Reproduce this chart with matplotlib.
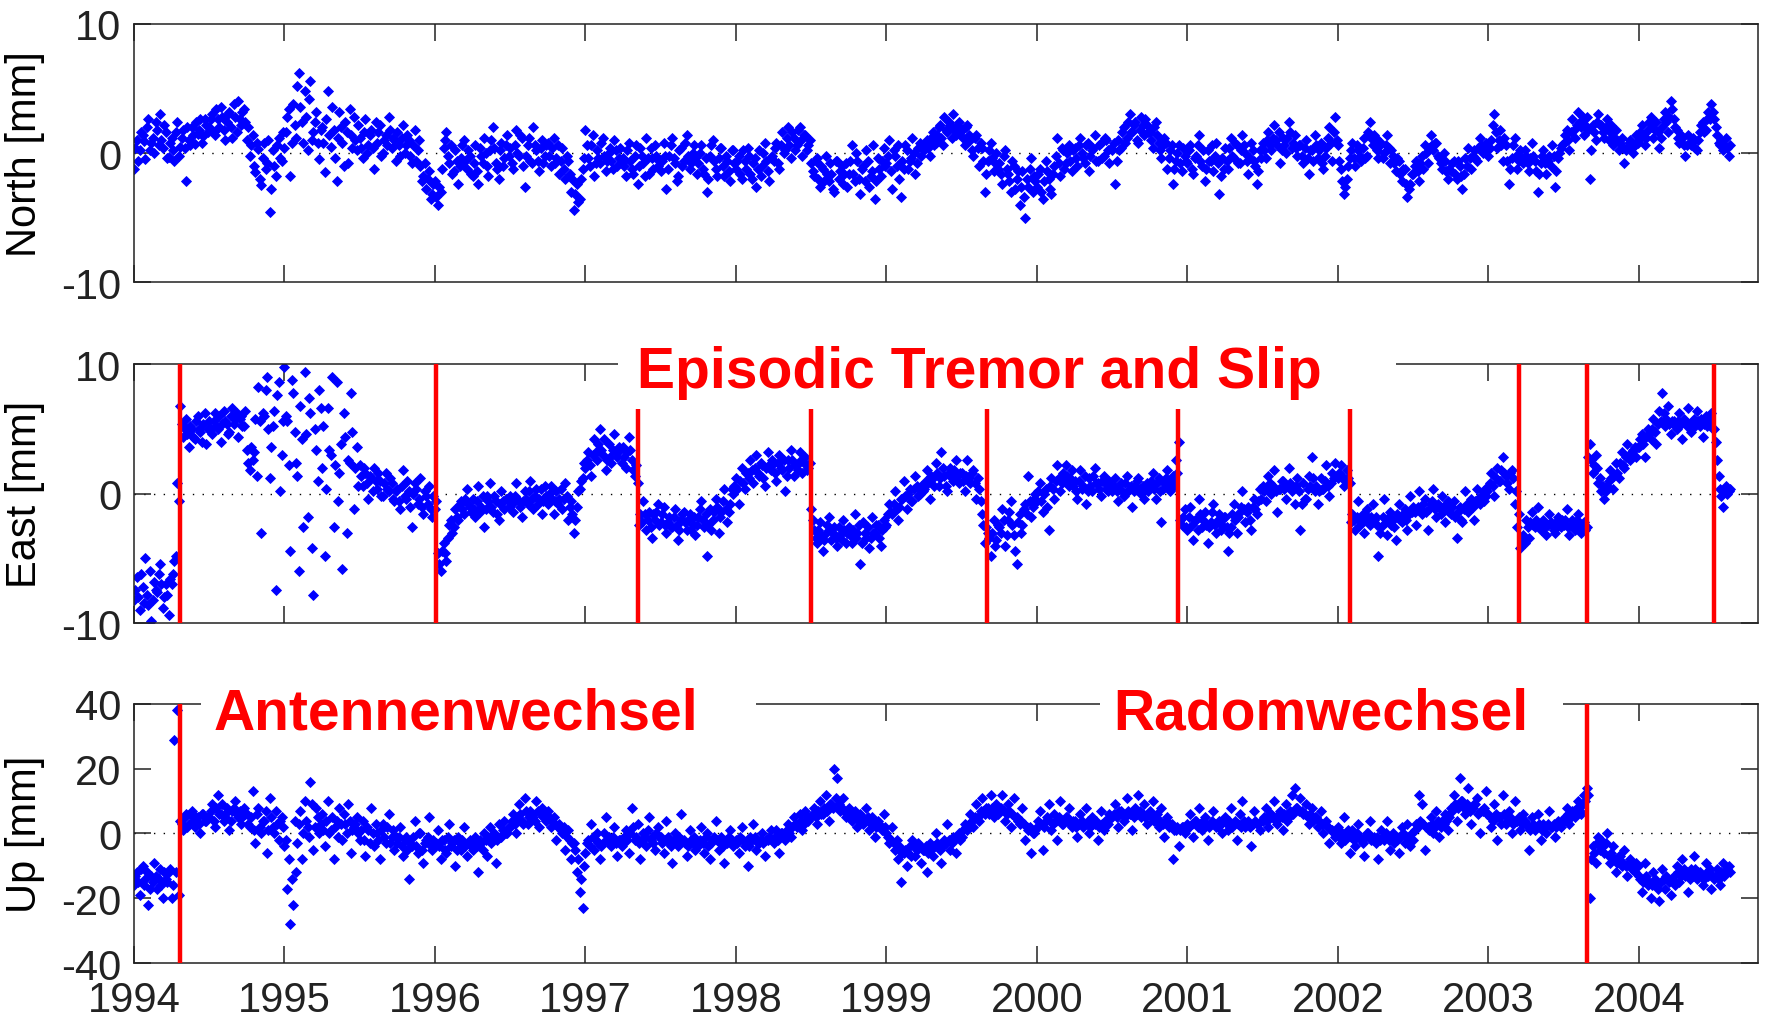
import matplotlib.pyplot as plt
from matplotlib.patches import Rectangle
import numpy as np

plt.rcParams['font.family'] = ['Liberation Sans', 'DejaVu Sans']
plt.rcParams['axes.unicode_minus'] = False

# weekly samples starting 1994.0, one row = one quarter year
start_year = 1994.0
samples_per_year = 52

north = [
    -1.2, 1.0, 0.2, 1.4, -0.5, 2.6, 0.8, 0.0, 1.8, 3.0, 0.4, 1.6, -0.3,
    1.2, -0.6, 2.4, 0.5, 1.8, -2.2, 1.0, 2.0, 0.7, 1.5, 2.6, 1.3, 2.2,
    2.0, 3.0, 1.4, 2.6, 3.6, 1.8, 2.4, 3.2, 1.2, 2.8, 4.0, 2.2, 3.4,
    1.0, -0.2, 1.4, -1.5, 0.3, -2.5, 0.8, -0.8, -4.6, 0.2, -1.8, 1.2, -0.6,
    0.4, 2.8, -1.8, 3.8, 1.2, 6.2, 2.4, 4.8, 0.2, 5.6, 1.6, 3.2, -0.5,
    2.0, -1.5, 4.8, 0.5, 1.8, -2.2, 3.2, 0.8, 2.4, -0.8, 1.4, 2.8, 0.2,
    1.2, -0.4, 2.6, 0.6, 1.8, -1.2, 0.8, 2.2, 0.0, 1.4, 2.8, 0.4, 1.0,
    1.6, -0.2, 2.2, 0.6, 1.0, -0.8, 1.8, 0.2, -1.0, -1.8, -2.8, -1.4, -3.2,
    -2.2, -4.0, -3.0, 0.4, 1.6, -0.8, -1.6, 0.2, -2.4, -0.4, 1.0, -1.2, -0.2,
    -1.8, 0.6, -2.4, -0.2, 1.2, -1.0, 0.2, 2.0, -0.8, -2.0, 0.8, -0.4, 1.4,
    0.4, -1.2, 1.8, -0.2, 1.2, -2.6, 0.6, -0.6, 2.0, 0.2, -1.4, 1.0, -0.2,
    0.8, -1.0, 1.2, -0.4, -1.6, 0.4, -2.0, -0.6, -3.0, -4.4, -2.4, -3.6, -1.2,
    1.8, -0.4, 0.6, -1.8, 0.2, -0.8, 1.2, -1.4, 0.0, -0.6, 1.0, -1.0, 0.4,
    -0.4, -1.8, 0.8, -1.2, -0.2, -2.4, 0.4, -0.8, 1.2, -1.6, -0.4, 0.6, -1.0,
    -1.4, 0.8, -2.8, -0.2, 1.2, -0.8, -1.8, 0.4, -0.6, 1.4, -1.2, 0.0, -0.4,
    -0.8, 0.6, -1.6, -3.0, -0.2, 1.0, -1.2, -0.4, 0.4, -1.8, -0.6, -2.2, 0.2,
    -1.2, -0.2, -2.0, -0.6, 0.4, -1.6, -0.8, -2.6, 0.2, -1.0, 0.8, -1.4, -0.4,
    -0.6, 0.8, -1.2, 1.6, 0.2, 2.0, -0.4, 1.2, 0.6, 2.0, -0.2, 1.4, 0.6,
    -0.8, -1.8, -0.4, -2.6, -1.2, -0.2, -2.2, -1.6, -3.0, -0.6, -1.4, -2.4, -0.8,
    -1.6, 0.6, -2.2, -0.6, -3.2, -1.0, 0.2, -2.6, -1.4, -3.6, -0.4, -1.8, 0.4,
    -0.8, 1.0, -2.8, -0.2, 0.6, -3.4, -1.2, 0.2, -0.6, 1.2, -1.6, 0.4, -0.2,
    0.2, 1.0, -0.2, 1.6, 0.8, 2.0, 1.2, 2.8, 1.6, 2.2, 3.0, 1.4, 2.4,
    1.8, 0.6, 2.2, 1.0, -0.2, 1.4, -1.0, 0.4, -3.0, -0.6, 0.8, -1.4, 0.0,
    -0.8, -2.4, 0.2, -1.6, -3.0, -1.0, -2.0, -4.0, -1.4, -5.0, -2.6, -0.4, -1.8,
    -2.6, -1.2, -3.6, -0.6, -2.0, -3.2, -1.0, 1.2, -1.8, 0.2, -0.8, 0.6, -1.4,
    0.4, -1.0, 1.2, -0.4, 0.6, -1.4, 0.2, 1.4, -0.6, 0.8, -0.2, 1.0, -0.8,
    0.2, -2.4, 1.0, 0.4, 2.0, 1.2, 3.0, 1.6, 2.4, 0.8, 2.8, 1.4, 2.2,
    1.6, 0.4, 2.4, 0.8, -0.4, 1.2, -1.2, 0.2, -2.4, -0.6, 0.6, -1.4, -0.2,
    -0.8, 0.6, -1.6, -0.2, 1.4, -1.0, -2.2, 0.2, -0.6, -1.4, 0.8, -3.2, -0.4,
    0.4, -1.2, 1.2, -0.4, 0.6, -0.8, 1.4, 0.0, -1.6, 0.8, -0.6, -2.4, 0.2,
    0.8, -0.4, 1.6, 0.2, 2.2, 0.6, -0.8, 1.2, 0.0, 2.4, 0.4, 1.4, -0.2,
    0.6, -0.8, 1.0, -1.6, 0.2, 1.4, -0.4, 0.8, -1.2, 0.4, 2.0, -0.6, 2.8,
    0.6, -1.2, -3.2, -2.0, -0.4, 0.8, -1.0, 0.2, -0.6, 1.2, -0.2, 2.4, 0.6,
    1.2, -0.4, 0.8, 0.0, 1.4, -0.8, -0.2, -1.4, -0.6, -2.2, -1.2, -3.4, -2.4,
    -1.6, -0.6, -2.2, -0.2, 0.6, -0.8, 1.4, 0.2, 0.8, -0.4, -1.2, -0.6, -2.0,
    -1.4, -0.6, -2.0, -1.0, -2.8, -0.4, 0.4, -1.2, 0.2, -0.6, 1.2, 0.0, 0.8,
    -0.2, 1.0, 3.0, 0.4, 1.8, -0.6, 0.6, -2.4, -0.4, 1.2, -1.2, 0.2, -0.8,
    -0.2, -1.4, 0.8, -0.6, -3.0, -0.8, 0.2, -1.6, -0.2, 0.6, -2.6, -0.4, 0.4,
    0.8, 1.8, 0.2, 2.6, 1.2, 3.2, 2.0, 1.4, 2.8, -2.0, 2.2, 1.0, 3.0,
    2.2, 1.2, 2.6, 1.6, 0.6, 1.8, 0.2, 1.2, -0.8, 0.4, 1.0, 0.0, 1.4,
    1.0, 2.2, 0.6, 1.8, 2.8, 1.2, 2.4, 0.4, 2.0, 3.2, 1.6, 4.0, 2.6,
    1.8, 0.8, 1.2, -0.2, 1.4, 0.6, 1.0, 0.2, 1.6, 2.4, 1.8, 3.2, 3.8,
    2.6, 1.4, 0.6, 0.2, 1.2, -0.2,
]

# readings half a week later than the ones above
north_mid = [
    0.4, -0.6, 1.6, 0.9, 2.0, 0.2, 1.2, 2.4, 0.6, 1.0, 2.2, -0.4, 0.8,
    0.2, 1.6, -0.2, 1.2, 0.4, 2.0, 0.6, 1.4, 2.4, 1.8, 0.8, 2.6, 1.6,
    2.6, 1.6, 3.4, 2.0, 2.8, 1.0, 3.0, 2.0, 3.8, 1.6, 2.6, 3.2, 2.4,
    2.0, 0.6, -1.0, 0.8, -2.0, -0.4, -1.2, 1.0, -2.8, -1.0, 0.6, -0.4, 1.6,
    1.6, 3.4, 0.8, 2.2, 5.2, 3.6, 0.8, 2.8, 4.2, 1.0, 2.4, 0.8, 1.8,
    0.8, 2.6, 1.4, 3.6, -0.4, 1.2, 2.0, -1.0, 1.6, 3.4, 0.4, 1.0, 2.2,
    0.4, 1.6, 0.0, 1.4, 0.4, 2.4, 1.6, -0.2, 1.0, 0.6, 1.8, 1.2, -0.6,
    0.6, 1.2, 0.0, 1.4, -0.2, 0.6, -0.6, 1.0, -2.2, -0.8, -2.0, -3.6, -2.4,
    -3.4, -2.6, -1.2, 1.0, -0.2, 0.6, -1.4, -0.6, -1.0, 0.6, -0.6, 0.2, -1.6,
    -0.8, -1.4, 0.4, -0.8, 0.0, -1.8, 1.0, 0.4, -1.2, 0.2, -1.0, 0.6, -0.2,
    -0.8, 0.6, 0.0, 1.4, -1.0, -0.2, 1.2, -0.8, 0.6, -0.6, 0.4, -0.8, 0.6,
    -0.2, 0.4, -0.8, 0.6, -0.6, -1.2, -0.2, -1.6, -2.0, -3.2, -3.8, -2.0, -0.4,
    0.6, -1.0, 1.4, -0.8, -0.4, 0.8, -0.2, -0.6, 0.4, -1.2, 0.2, -0.4, -0.8,
    -1.0, 0.2, -0.6, -1.6, 0.6, -1.0, -0.2, -1.8, -0.4, 0.4, -1.2, -0.2, -0.6,
    -0.6, -0.2, -1.2, 0.6, -0.4, -2.2, 0.2, -1.0, 0.8, -0.2, -0.8, 0.6, -1.6,
    0.0, -1.2, -0.4, -2.0, 0.6, -0.6, -1.8, 0.4, -1.0, -0.2, -1.4, 0.2, -0.8,
    -0.6, -1.6, 0.2, -1.2, -0.2, -2.0, -0.4, -1.2, -1.8, 0.0, -0.6, -2.2, -0.2,
    0.4, -0.8, 0.6, 0.0, 1.2, 0.6, 1.6, 0.2, 1.8, 1.0, 1.4, 0.2, 1.0,
    -1.4, -0.6, -2.0, -1.0, -2.2, -1.6, -0.8, -2.8, -0.6, -2.0, -1.0, -1.6, -2.6,
    -0.6, -1.6, 0.0, -2.0, -1.2, -2.2, -0.6, -1.8, 0.6, -2.2, -1.2, -0.6, -1.0,
    -0.2, -1.4, 0.2, -1.0, -2.0, -0.6, 0.6, -1.2, -0.4, 0.0, -0.8, 0.8, 0.4,
    0.8, 0.4, 1.2, 0.6, 1.4, 2.2, 0.6, 1.8, 2.4, 1.2, 1.8, 2.2, 1.6,
    1.2, 2.0, 1.4, 0.2, 1.2, 0.4, 0.8, -0.6, -1.6, 0.2, -0.4, -0.8, -1.2,
    -1.6, -0.2, -1.2, -2.2, -0.6, -2.8, -1.4, -2.6, -3.4, -2.0, -1.2, -3.0, -2.2,
    -1.6, -3.0, -2.2, -1.4, -2.8, -1.6, -0.2, -0.8, 0.4, -1.2, 0.0, -0.6, 0.2,
    -0.4, 0.6, 0.0, -0.8, 0.8, -0.2, 0.4, -0.6, 0.6, -0.4, 1.2, 0.2, 0.4,
    0.8, -0.6, 0.2, 1.6, 0.8, 2.4, 1.6, 2.2, 1.0, 1.8, 2.2, 2.6, 1.6,
    1.0, 2.0, 1.4, 0.2, 0.6, 0.8, -0.4, 0.6, -1.2, 0.0, -0.8, 0.4, -0.6,
    0.2, -1.2, -0.4, 0.6, -0.6, 0.2, -1.2, -0.6, 0.6, -0.2, -0.8, -1.8, -1.2,
    -0.6, 0.4, -0.2, 0.8, -0.8, 0.2, 0.6, -0.6, -0.4, 0.2, -1.0, -1.4, -0.4,
    0.2, 1.0, 0.6, 1.2, 1.0, 1.6, 0.2, 0.6, 1.2, 1.6, 0.8, 0.4, 0.6,
    -0.2, 0.4, -0.4, 0.2, -0.6, 0.6, 0.2, -0.8, -0.2, 1.2, 0.8, 1.6, 1.0,
    -0.6, -2.2, -2.6, -1.0, 0.2, -0.4, 0.6, -0.2, 0.4, -0.4, 1.6, 1.2, 1.4,
    0.2, 0.6, -0.4, 0.6, 0.4, 0.2, -0.8, -0.4, -1.6, -1.2, -2.4, -2.8, -1.6,
    -1.0, -1.4, -0.8, -1.2, 0.0, 0.4, 0.6, 0.8, -0.2, -0.8, 0.0, -1.4, -1.2,
    -0.8, -1.6, -0.6, -1.8, -1.6, -1.0, -0.4, -0.2, -0.4, 0.4, 0.6, 0.4, 0.2,
    0.4, 2.2, 1.6, 1.0, 0.6, 1.2, -0.6, -1.2, 0.6, -0.2, -0.6, -0.4, 0.2,
    -0.8, -0.4, -0.2, -1.4, -1.6, -0.2, -0.8, -0.6, -1.0, -0.2, -1.4, 0.0, 0.6,
    1.4, 1.0, 1.6, 1.8, 2.2, 2.4, 2.8, 2.2, 1.8, 0.2, 1.6, 2.4, 2.2,
    1.6, 2.0, 1.0, 2.2, 1.2, 1.0, 0.8, 0.4, 0.2, 0.8, 0.4, 0.6, 0.8,
    1.6, 1.4, 1.2, 2.4, 2.0, 1.8, 1.6, 1.2, 2.6, 2.4, 2.8, 3.4, 2.0,
    1.2, 1.4, 0.6, 0.6, 0.8, 1.2, 0.4, 1.0, 2.2, 1.6, 2.6, 2.6, 3.2,
    2.0, 0.8, 1.0, 0.6, 0.4, 0.6,
]

east = [
    -8.2, -6.4, -9.0, -7.2, -5.0, -8.6, -9.8, -6.8, -7.6, -5.4, -8.8, -7.0, -9.4,
    -7.0, -5.2, 0.8, 6.8, 4.4, 5.8, 3.6, 5.0, 4.2, 6.0, 4.8, 5.4, 3.8,
    5.6, 4.6, 6.2, 5.0, 4.0, 6.4, 5.4, 4.8, 6.6, 5.8, 4.4, 6.0, 5.2,
    3.4, 1.8, 2.6, 5.8, 8.2, -3.0, 6.0, 9.0, 1.2, 5.2, -7.4, 8.6, 3.0,
    9.8, 5.6, -4.4, 7.8, 2.4, -6.0, 4.2, 9.4, -1.8, 6.2, -7.8, 3.4, 8.0,
    2.0, -4.8, 6.6, 3.0, -2.6, 8.6, 1.6, -5.8, 4.4, 2.6, 7.8, -1.2, 3.6,
    2.2, 0.6, 1.6, -0.4, 1.2, 2.0, 0.4, 1.0, -0.2, 1.6, 0.2, 0.8, -0.6,
    0.4, -1.2, 1.8, -0.4, 0.2, -2.6, 0.8, -0.8, 1.2, -1.6, -0.2, 0.6, -1.8,
    -1.2, -4.6, -6.0, -3.8, -5.2, -2.4, -3.0, -1.2, -2.0, -0.6, -1.6, 0.4, -1.0,
    -0.4, -1.8, 0.6, -1.0, -2.6, -0.2, 0.8, -1.4, -0.6, -2.0, 0.2, -1.2, -0.4,
    -0.2, -1.4, 0.8, -0.6, -1.8, 0.2, -0.8, 1.0, -1.2, 0.4, -0.4, -1.6, 0.6,
    -0.8, 0.6, -1.6, 0.2, -0.4, -1.2, 0.8, -2.0, -0.6, -3.0, -1.0, 0.4, 1.2,
    2.0, 3.2, 1.4, 4.2, 2.6, 5.0, 3.0, 1.8, 3.8, 2.4, 4.6, 2.8, 3.4,
    3.6, 2.0, 4.4, 2.6, 1.4, 0.8, -1.6, -0.6, -2.8, -1.4, -3.4, -2.0, -0.8,
    -2.2, -1.0, -3.0, -1.8, -2.6, -1.2, -3.6, -2.0, -1.4, -2.8, -1.6, -2.4, -3.2,
    -1.8, -0.6, -2.6, -4.8, -1.2, -2.0, -0.4, -3.0, -1.4, 0.4, -2.2, -0.8, 0.0,
    1.2, -0.8, 2.0, 0.4, 1.6, 2.6, 0.8, 3.0, 1.4, 2.2, 0.6, 3.2, 1.8,
    2.4, 1.0, 3.0, 1.8, 0.2, 2.6, 3.4, 1.4, 2.2, 3.2, 1.6, 2.8, 2.0,
    -1.2, -2.8, -3.8, -2.2, -4.4, -3.0, -1.8, -3.6, -2.6, -4.0, -3.2, -2.0, -3.8,
    -2.6, -3.8, -1.6, -3.0, -5.4, -2.2, -3.4, -4.2, -1.8, -3.0, -2.4, -4.0, -2.0,
    -2.4, -0.8, -1.6, 0.2, -2.0, -0.4, 1.0, -1.2, 0.4, -0.6, 1.4, -0.2, 0.6,
    0.4, 1.8, -0.4, 1.2, 2.4, 0.6, 3.2, 1.4, 0.2, 2.0, 1.0, 2.6, 0.8,
    1.6, 0.2, 2.6, 0.8, 1.8, -0.4, 0.4, -1.6, -3.8, -3.0, -4.8, -2.0, -3.6,
    -2.6, -1.2, -4.0, -2.0, -0.6, -3.2, -5.4, -1.6, -2.4, -0.8, 1.4, -1.8, -0.4,
    -0.6, 0.8, -1.4, 0.4, -2.8, 1.2, -0.4, 2.2, 0.2, 1.6, 2.2, 0.6, 1.8,
    1.0, -0.4, 1.8, 0.6, -0.8, 1.2, 0.2, 2.0, 0.8, -0.2, 1.4, 0.4, 1.0,
    0.2, 1.2, -0.6, 0.8, -0.2, 1.4, 0.4, -1.0, 0.6, 1.2, 0.0, -0.4, 0.8,
    0.6, 1.6, -0.4, 1.2, -2.2, 0.8, 1.8, 0.2, 1.4, 2.6, 4.0, -2.4, -1.2,
    -2.8, -1.0, -3.6, -2.0, -0.4, -2.6, -1.4, -3.8, -2.2, -0.8, -3.0, -1.6, -2.4,
    -1.8, -4.4, -2.6, -0.8, -3.0, -1.4, 0.2, -2.2, -1.0, -2.8, -0.4, -1.6, 0.4,
    0.6, -0.6, 1.4, 0.0, 1.8, -1.4, 0.4, 1.0, -0.4, 2.0, 0.2, -0.8, 1.2,
    -2.8, 0.8, -0.4, 1.4, 2.8, 0.2, -0.8, 1.2, 0.4, 2.2, -0.2, 1.6, 2.4,
    1.2, 2.2, 0.6, 1.8, 0.8, -1.6, -2.8, -0.6, -2.2, -3.0, -1.2, -2.4, -0.8,
    -1.8, -4.8, -2.6, -0.4, -3.2, -1.4, -2.0, -3.6, -0.8, -2.2, -1.2, -2.8, -0.2,
    -1.0, -2.4, 0.2, -1.6, -0.4, -2.8, -0.8, 0.4, -1.8, -1.0, -0.2, -2.2, -0.6,
    -1.6, -0.6, -3.4, -1.0, -2.2, 0.2, -1.4, -0.4, -2.0, 0.4, -0.8, 0.2, -0.2,
    0.6, 1.6, -0.2, 2.0, 1.0, 2.8, 1.4, 0.4, 1.8, -0.8, -2.6, -4.2, -3.2,
    -2.0, -3.4, -1.4, -2.6, -1.0, -2.8, -2.0, -3.2, -1.6, -2.4, -3.0, -1.8, -2.6,
    -2.4, -1.2, -3.2, -2.0, -2.8, -1.6, -3.0, -2.2, -2.6, 3.8, 1.6, 3.0, 0.8,
    0.2, -0.4, 0.6, 1.8, 0.4, 2.4, 1.2, 3.2, 2.0, 3.8, 2.6, 3.4, 2.8,
    3.6, 4.6, 2.8, 5.0, 4.2, 5.8, 3.8, 6.4, 7.8, 5.2, 6.8, 4.6, 5.6,
    5.0, 6.2, 4.2, 5.6, 6.6, 4.8, 5.8, 6.4, 5.2, 4.4, 6.0, 5.4, 6.2,
    5.0, 2.6, 0.4, -1.0, 0.6, 0.2,
]

east_mid = [
    -7.4, -8.0, -6.2, -8.4, -7.8, -6.0, -8.2, -7.4, -6.2, -7.0, -8.0, -7.8, -6.6,
    -6.2, -4.8, -0.6, 5.4, 5.0, 4.6, 5.2, 4.4, 5.6, 5.0, 4.0, 6.2, 5.0,
    5.0, 5.6, 5.2, 6.0, 5.4, 5.6, 4.6, 6.0, 5.4, 6.2, 5.8, 5.2, 6.4,
    2.4, 3.6, 3.2, 1.4, 5.6, 6.2, 8.0, 5.0, 3.6, 6.4, 7.6, 0.2, 5.6,
    6.0, 2.2, 8.8, 4.8, 1.4, 6.8, -2.6, 4.6, 7.4, -4.2, 5.0, 1.0, 6.6,
    5.2, 0.4, 3.4, 9.0, 2.2, -0.6, 3.8, 6.2, -3.0, 2.4, 4.8, 2.0, 0.6,
    1.4, 2.0, 0.8, 1.4, 0.2, 1.0, 1.6, -0.2, 0.8, 0.4, 1.2, -0.4, 0.2,
    -0.6, 0.6, -0.2, 1.0, -1.0, 0.0, 0.4, -0.4, -1.0, 0.2, -0.8, -1.2, -0.2,
    -0.6, -5.4, -4.4, -4.6, -3.4, -2.0, -2.6, -1.8, -0.8, -1.2, -0.4, -0.8, -1.4,
    -1.2, -0.6, -1.4, -0.2, -1.2, -0.6, -1.0, -0.2, -1.6, -0.8, -0.6, -0.4, -1.0,
    -0.8, -0.2, -0.4, -1.0, -0.6, -0.4, 0.2, -0.4, -0.2, -0.8, 0.4, -0.6, -0.2,
    0.0, -0.4, -0.6, -0.8, 0.4, -0.4, -0.2, -1.0, -1.6, -2.0, 0.2, 1.0, 2.4,
    2.6, 2.2, 3.0, 3.2, 3.8, 3.4, 4.2, 2.6, 2.8, 3.4, 3.2, 3.6, 2.4,
    2.8, 3.2, 3.4, 1.8, 2.2, -2.4, -2.2, -1.6, -2.0, -2.6, -1.6, -1.4, -2.4,
    -1.6, -2.4, -2.2, -2.6, -1.8, -2.4, -2.8, -1.6, -2.2, -2.0, -2.8, -1.8, -2.4,
    -1.2, -2.0, -1.6, -2.4, -2.8, -1.4, -1.0, -1.8, -0.6, -1.2, -1.4, 0.4, 0.6,
    0.4, 1.0, 0.8, 1.6, 1.2, 1.8, 2.0, 1.6, 2.4, 1.2, 2.0, 2.2, 2.6,
    1.6, 2.4, 2.0, 2.6, 1.4, 2.0, 2.6, 2.2, 1.8, 2.6, 2.4, 1.8, 2.4,
    -2.0, -3.4, -2.8, -3.2, -3.6, -2.4, -2.8, -3.0, -3.4, -2.6, -3.6, -2.8, -3.0,
    -3.2, -2.8, -3.4, -2.4, -3.8, -3.0, -2.6, -3.4, -3.0, -2.4, -3.4, -2.8, -2.6,
    -1.6, -1.4, -0.8, -1.2, -1.0, -0.4, -0.2, 0.0, -0.6, 0.4, 0.6, 0.0, 0.2,
    1.0, 0.8, 1.4, 0.6, 1.6, 1.2, 2.0, 0.6, 1.6, 1.2, 1.8, 1.4, 1.6,
    1.0, 1.4, 1.2, 1.6, 0.8, 1.2, -0.6, -2.4, -2.6, -3.4, -3.0, -4.0, -2.4,
    -3.0, -2.0, -3.2, -1.4, -2.4, -4.4, -2.2, -3.0, -1.2, -1.6, -0.6, -1.0, 0.0,
    0.2, -0.6, 0.0, -1.0, 0.6, 0.4, 1.0, 1.2, 0.8, 1.0, 1.4, 1.2, 0.6,
    0.2, 1.0, 0.4, 1.4, 0.2, 0.6, 1.4, 0.8, 0.4, 1.0, 0.8, 0.2, 0.6,
    0.6, 0.2, 0.4, 0.2, 0.8, 0.2, 0.6, 0.2, 1.0, 0.4, 0.6, 0.4, 0.2,
    1.0, 0.4, 0.8, 0.2, 0.4, 1.2, 0.6, 1.0, 0.6, 1.6, -2.0, -1.8, -2.6,
    -1.8, -2.4, -2.0, -2.8, -1.6, -2.0, -2.4, -2.6, -1.4, -2.4, -2.0, -2.8, -1.8,
    -2.6, -3.0, -1.6, -2.0, -1.8, -1.0, -1.2, -1.4, -2.0, -1.0, -1.2, -0.6, -0.4,
    0.2, 0.4, 0.8, 0.6, 0.2, 0.4, 1.0, 0.4, 0.6, 0.8, 0.4, 0.6, 0.2,
    -0.8, -0.4, 0.4, 0.6, 1.2, 0.6, 0.2, 0.4, 1.0, 0.6, 0.8, 1.2, 1.4,
    1.6, 1.4, 1.0, 1.2, -2.2, -2.0, -1.8, -2.4, -1.6, -2.0, -1.8, -1.8, -2.0,
    -2.4, -3.0, -1.8, -2.2, -1.8, -2.4, -2.6, -1.6, -2.0, -1.6, -2.0, -1.6, -1.4,
    -1.4, -1.0, -1.2, -0.8, -1.4, -1.2, -0.6, -1.2, -0.8, -1.6, -1.0, -0.8, -1.4,
    -1.0, -1.8, -1.4, -2.0, -1.2, -0.8, -0.8, -1.0, -0.6, -0.4, -0.2, -0.6, 0.2,
    0.8, 0.6, 1.2, 1.0, 1.8, 1.6, 0.8, 1.6, 1.2, 0.2, -1.6, -3.4, -3.8,
    -2.6, -2.2, -2.4, -2.0, -2.4, -2.2, -2.6, -2.4, -2.2, -2.8, -2.2, -2.4, -2.0,
    -2.0, -2.6, -2.4, -2.6, -2.0, -2.4, -2.4, -2.8, 2.8, 2.6, 2.2, 2.0, 1.2,
    0.6, 0.2, 1.0, 1.2, 1.4, 1.6, 2.4, 2.2, 2.8, 3.0, 3.2, 3.6, 3.6,
    4.2, 3.8, 4.4, 4.6, 5.0, 4.8, 5.4, 5.6, 6.2, 5.8, 5.4, 5.6, 5.2,
    5.6, 5.4, 5.8, 5.2, 5.4, 5.6, 5.2, 5.6, 5.8, 5.4, 5.2, 5.6, 5.0,
    4.0, 1.4, -0.2, 0.2, 0.0, 0.4,
]

up = [
    -16, -12, -19, -10, -14, -22, -13, -9, -17, -11, -20, -14, -12,
    -20, 29, 38, 4, 1, 6, 3, 7, 2, 5, 0, 6, 4,
    5, 9, 2, 12, 6, 4, 8, 1, 7, 10, 5, 3, 8,
    6, 2, 13, -3, 8, 0, 4, -6, 11, 2, 7, -2, 5,
    -4, -17, -28, -22, -12, 3, -8, 10, 2, 16, -5, 8, 0,
    6, -4, 10, 1, -8, 4, 8, -2, 3, 9, -6, 2, 5,
    -2, 4, -7, 1, 8, -4, 0, -8, 3, -3, 6, -1, -5,
    -3, 2, -7, -1, -14, -4, 4, -6, 0, -9, -2, 5, -5,
    -4, 1, -8, -2, -6, 3, -3, -10, -1, -5, 2, -7, -2,
    -5, -1, -12, -3, 0, -7, 2, -2, -9, 3, -1, 4, 0,
    2, 6, 0, 9, 4, 11, 3, 7, 5, 10, 2, 8, 6,
    7, 2, 5, -2, 3, 0, -5, 1, -8, -3, -12, -18, -23,
    -6, -2, 3, -5, 0, -8, -3, 5, -1, -4, 2, -7, -2,
    -3, 1, -6, 8, -2, 3, -8, 0, -4, 5, -1, -5, 2,
    -1, -6, 4, -3, -9, 0, -4, 6, -2, -7, 1, -3, -5,
    -4, 2, -6, 0, -8, -2, 4, -5, -1, -9, -3, 1, -4,
    -2, -6, 2, -4, -10, -1, 3, -5, -3, 0, -7, -2, 1,
    -3, 1, -6, 0, -2, 3, -1, 5, 2, 6, 1, 7, 4,
    5, 8, 3, 10, 6, 12, 4, 9, 20, 17, 7, 11, 5,
    8, 4, 7, 2, 6, 3, 8, 1, 5, -1, 4, 2, 6,
    0, -3, 2, -5, -8, -15, -6, -10, -4, -2, -7, -3, -9,
    -5, -12, -3, -7, 0, -4, -9, -2, 3, -5, -1, -6, 0,
    -1, 3, 1, 6, 2, 9, 4, 11, 6, 8, 12, 5, 9,
    7, 12, 4, 9, 2, 11, 5, 3, 8, -2, 1, -6, 0,
    2, 7, -5, 4, 9, 1, 6, -2, 10, 3, 5, 8, 2,
    4, -1, 6, 2, 8, 0, 5, 3, -2, 7, 1, 4, 6,
    5, 9, 2, 7, 4, 11, 6, 1, 8, 12, 5, 9, 3,
    7, 10, 4, 2, 8, -1, 5, 3, -8, 1, -4, 2, 0,
    3, 6, -1, 4, 8, 1, 5, -2, 3, 7, 2, 4, 0,
    5, 1, 8, 3, -2, 6, 10, 2, 4, -4, 7, 3, 1,
    4, 8, 2, 6, 10, 3, 7, 1, 9, 5, 12, 14, 8,
    11, 6, 9, 3, 8, 5, 2, 7, 0, 4, -3, 1, -1,
    2, -3, 5, -1, -6, 1, -4, 3, -2, -7, 0, 4, -2,
    -3, -8, 1, -2, 4, -5, 0, -1, -6, 2, -3, 3, -4,
    -2, 3, 12, 9, -5, 2, 5, 0, 7, -1, 4, 6, 1,
    8, 12, 4, 17, 10, 6, 14, 3, 9, 11, 0, 7, 13,
    6, 2, 9, -2, 5, 12, 3, 7, 0, 10, 4, 1, 6,
    3, -5, 5, 1, 6, -2, 3, 0, 7, 2, -1, 4, 2,
    4, 8, 3, 7, 5, 10, 6, 12, 14, -20, -4, -9, -1,
    -2, -6, 0, -9, -4, -12, -7, -10, -5, -13, -8, -11, -9,
    -13, -18, -9, -16, -20, -12, -15, -21, -11, -17, -14, -19, -13,
    -10, -15, -8, -13, -18, -11, -7, -14, -12, -16, -9, -13, -17,
    -14, -11, -16, -9, -12, -10,
]

up_mid = [
    -13, -15, -11, -16, -12, -17, -15, -13, -14, -16, -12, -15, -11,
    -16, -12, -19, 3, 5, 2, 6, 4, 5, 3, 6, 4, 5,
    7, 4, 8, 6, 9, 5, 7, 4, 8, 6, 7, 5, 6,
    3, 5, 1, 6, 2, 4, 7, 1, 5, 0, 3, 4, 2,
    -2, -8, -14, 4, -3, 7, 0, 4, -1, 9, 2, 5, 3,
    1, 4, 0, 5, 2, -1, 3, 6, 0, 4, 1, 3, 0,
    1, -2, 2, -3, 0, 3, -2, 1, -1, 2, -3, 1, -1,
    -1, -4, -2, -5, -3, -1, -4, 0, -5, -3, -1, -4, -2,
    -3, -4, -2, -5, -1, -4, -2, -5, -3, -2, -4, -3, -4,
    -3, -4, -2, -5, -2, -1, -3, 0, -2, -1, 1, 0, 2,
    4, 3, 5, 6, 3, 7, 5, 6, 4, 7, 6, 5, 4,
    5, 4, 3, 2, 1, 2, -1, -2, -3, -5, -8, -14, -10,
    -3, -4, -1, -2, -3, -4, 0, -2, -3, -1, -3, -2, -4,
    -1, -2, 0, 2, -1, -3, -2, -1, 1, -2, -3, 0, -1,
    -3, -2, -1, -4, -2, -3, -1, -2, -3, -4, -2, -1, -3,
    -2, -3, -1, -4, -3, -1, -2, -3, -4, -2, -1, -2, -3,
    -3, -1, -2, -3, -4, -2, -1, -3, -2, -3, -2, -1, -2,
    -1, -2, 0, -1, 1, 0, 2, 3, 3, 4, 3, 5, 5,
    6, 5, 7, 6, 8, 7, 9, 8, 11, 9, 8, 7, 6,
    6, 5, 6, 4, 5, 4, 5, 3, 4, 2, 3, 1, 2,
    -1, -2, -3, -2, -4, -6, -5, -6, -7, -4, -5, -4, -5,
    -4, -6, -5, -4, -3, -5, -4, -3, -2, -3, -2, -1, -2,
    1, 2, 3, 4, 5, 5, 7, 7, 8, 6, 8, 7, 6,
    8, 7, 6, 7, 6, 5, 4, 4, 3, 2, 2, 0, 1,
    4, 3, 2, 5, 4, 3, 4, 5, 3, 4, 5, 3, 4,
    2, 3, 4, 3, 4, 2, 3, 4, 2, 3, 4, 3, 5,
    6, 5, 7, 6, 5, 7, 6, 5, 6, 7, 6, 5, 6,
    5, 4, 6, 4, 3, 4, 2, 3, 1, 2, 1, 2, 1,
    2, 3, 4, 2, 3, 4, 3, 2, 4, 3, 2, 3, 4,
    3, 4, 2, 4, 3, 2, 4, 3, 2, 3, 4, 3, 4,
    5, 4, 6, 5, 4, 6, 5, 6, 4, 7, 6, 8, 7,
    7, 6, 5, 6, 4, 5, 4, 3, 3, 2, 1, 0, 1,
    -1, 0, -2, 1, -1, -2, 0, -1, -3, -1, 0, -2, -1,
    -1, -2, -1, 0, -2, -1, -3, -2, -1, 0, -1, -2, 0,
    1, 2, 4, 3, 2, 1, 3, 2, 4, 2, 3, 4, 5,
    7, 9, 8, 10, 8, 9, 7, 8, 9, 6, 7, 8, 6,
    5, 4, 6, 5, 3, 6, 4, 5, 3, 4, 5, 3, 4,
    2, 1, 3, 2, 3, 1, 2, 3, 2, 3, 2, 3, 4,
    5, 6, 5, 7, 8, 7, 9, 10, 12, -8, -6, -3, -5,
    -4, -3, -7, -6, -8, -9, -7, -9, -10, -9, -11, -12, -10,
    -14, -15, -13, -15, -16, -14, -17, -15, -14, -13, -15, -14, -16,
    -12, -13, -11, -12, -14, -13, -11, -12, -13, -14, -12, -11, -13,
    -13, -14, -12, -13, -11, -12,
]

# event epochs (decimal years)
ets_events = [1994.305, 1996.01, 1997.35, 1998.50, 1999.67, 2000.94,
              2002.08, 2003.20, 2003.655, 2004.50]
equipment_changes = [1994.305, 2003.655]

years = list(range(1994, 2005))


def epochs(values, offset=0.0):
    return start_year + (np.arange(len(values)) + offset) / samples_per_year


def style_axis(ax, yticks, ylabel, show_x):
    ax.set_xlim(1994, 2004.79)
    ax.set_ylim(yticks[0], yticks[-1])
    ax.set_xticks(years)
    ax.set_yticks(yticks)
    ax.tick_params(direction='in', length=12, width=1.1, top=True, right=True,
                   labelsize=30, colors='#222222', pad=9)
    ax.tick_params(axis='x', pad=12, labelbottom=show_x)
    for s in ax.spines.values():
        s.set_linewidth(1.1)
        s.set_color('#222222')
    ax.axhline(0, color='k', lw=1.0, ls=(0, (1, 6)), zorder=1)
    ax.set_ylabel(ylabel, fontsize=30)
    ax.yaxis.set_label_coords(-0.055, 0.5)


def banner(ax, x_text, y_text, x0, x1, y0, s):
    trans = ax.get_xaxis_transform()
    ax.add_patch(Rectangle((x0, y0), x1 - x0, 1.3 - y0, transform=trans,
                           facecolor='white', edgecolor='none', zorder=9, clip_on=False))
    ax.text(x_text, y_text, s, transform=trans, ha='left', va='baseline',
            fontsize=41, fontweight='bold', color='red', zorder=10, clip_on=False)


fig = plt.figure(figsize=(17.69, 10.20), dpi=100)
ax1 = fig.add_axes([0.0757, 0.7225, 0.918, 0.253])
ax2 = fig.add_axes([0.0757, 0.388, 0.918, 0.254])
ax3 = fig.add_axes([0.0757, 0.0549, 0.918, 0.254])

marker = dict(ls='none', marker='D', color='blue', ms=5.0, mew=0.6, zorder=2)

ax1.plot(epochs(north), north, **marker)
ax1.plot(epochs(north_mid, 0.5), north_mid, **marker)
style_axis(ax1, [-10, 0, 10], 'North [mm]', False)

ax2.plot(epochs(east), east, **marker)
ax2.plot(epochs(east_mid, 0.5), east_mid, **marker)
for t in ets_events:
    ax2.axvline(t, color='red', lw=3.2, zorder=3)
style_axis(ax2, [-10, 0, 10], 'East [mm]', False)
banner(ax2, 1997.34, 0.911, 1997.216, 2002.385, 0.826, 'Episodic Tremor and Slip')

ax3.plot(epochs(up), up, **marker)
ax3.plot(epochs(up_mid, 0.5), up_mid, **marker)
for t in equipment_changes:
    ax3.axvline(t, color='red', lw=3.2, zorder=3)
style_axis(ax3, [-40, -20, 0, 20, 40], 'Up [mm]', True)
banner(ax3, 1994.53, 0.907, 1994.445, 1998.133, 0.80, 'Antennenwechsel')
banner(ax3, 2000.505, 0.907, 2000.419, 2003.495, 0.80, 'Radomwechsel')

plt.savefig('out.png', dpi=100)
